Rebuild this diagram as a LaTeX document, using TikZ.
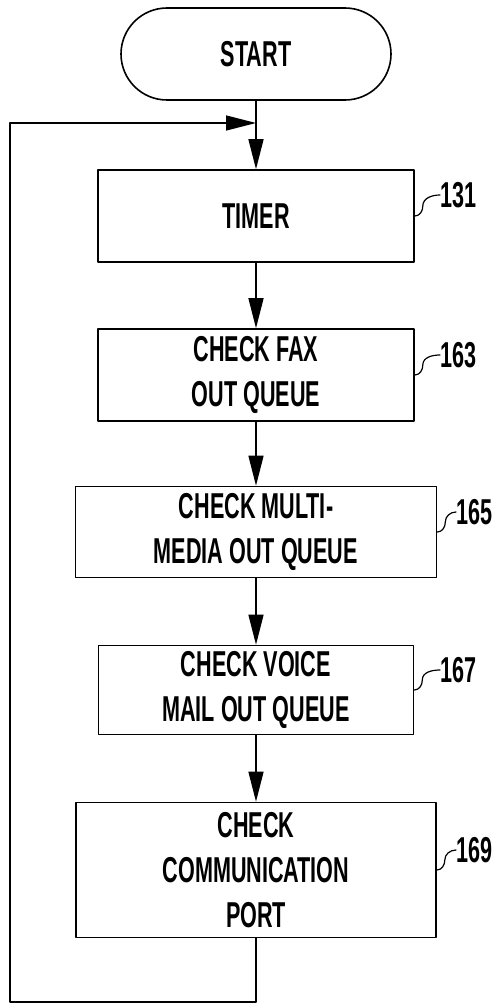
\documentclass[tikz,border=0pt]{standalone}
\usepackage{fontspec}
\setmainfont{Liberation Sans}[FakeStretch=0.6]
\usetikzlibrary{arrows.meta}
\begin{document}
\begin{tikzpicture}[x=1pt, y=1pt, font=\fontsize{36}{45}\selectfont\bfseries, line join=round, line cap=round, >={Triangle[length=30pt,width=15pt]}]
\tikzset{box/.style={draw, line width=1.6pt, align=center, inner sep=0pt},
  tag/.style={anchor=west, inner sep=0pt},
  flow/.style={line width=1.4pt}}
\useasboundingbox (0,0) rectangle (503,-1006);
\node[box, rounded corners=46pt, minimum width=270pt, minimum height=92pt] (start) at (256,-54) {START};
\node[box, minimum width=316pt, minimum height=92pt] (timer) at (256,-216) {TIMER};
\node[box, minimum width=316pt, minimum height=92pt] (fax) at (256,-375) {CHECK FAX\\OUT QUEUE};
\node[box, minimum width=361pt, minimum height=91pt] (mm) at (256,-532) {CHECK MULTI-\\MEDIA OUT QUEUE};
\node[box, minimum width=315pt, minimum height=89pt] (voice) at (256,-690) {CHECK VOICE\\MAIL OUT QUEUE};
\node[box, minimum width=360pt, minimum height=135pt] (comm) at (256,-870) {CHECK\\COMMUNICATION\\PORT};
% reference numerals
\node[tag] (l131) at (440,-195) {131};
\node[tag] (l163) at (440,-355) {163};
\node[tag] (l165) at (456,-512) {165};
\node[tag] (l167) at (440,-670) {167};
\node[tag] (l169) at (456,-850) {169};
\foreach \b/\t in {timer/131,fax/163,mm/165,voice/167,comm/169}
  \draw[line width=1.2pt] (\b.east) to[out=0,in=-90] ++(8,10) to[out=90,in=180] (l\t.west);
% flow
\coordinate (join) at (256,-123);
\coordinate (corner) at (10,-1002);
\draw[flow,->] (start) -- (timer);
\draw[flow,->] (timer) -- (fax);
\draw[flow,->] (fax) -- (mm);
\draw[flow,->] (mm) -- (voice);
\draw[flow,->] (voice) -- (comm);
\draw[flow,->] (comm.south) |- (corner) |- (join);
\end{tikzpicture}
\end{document}
